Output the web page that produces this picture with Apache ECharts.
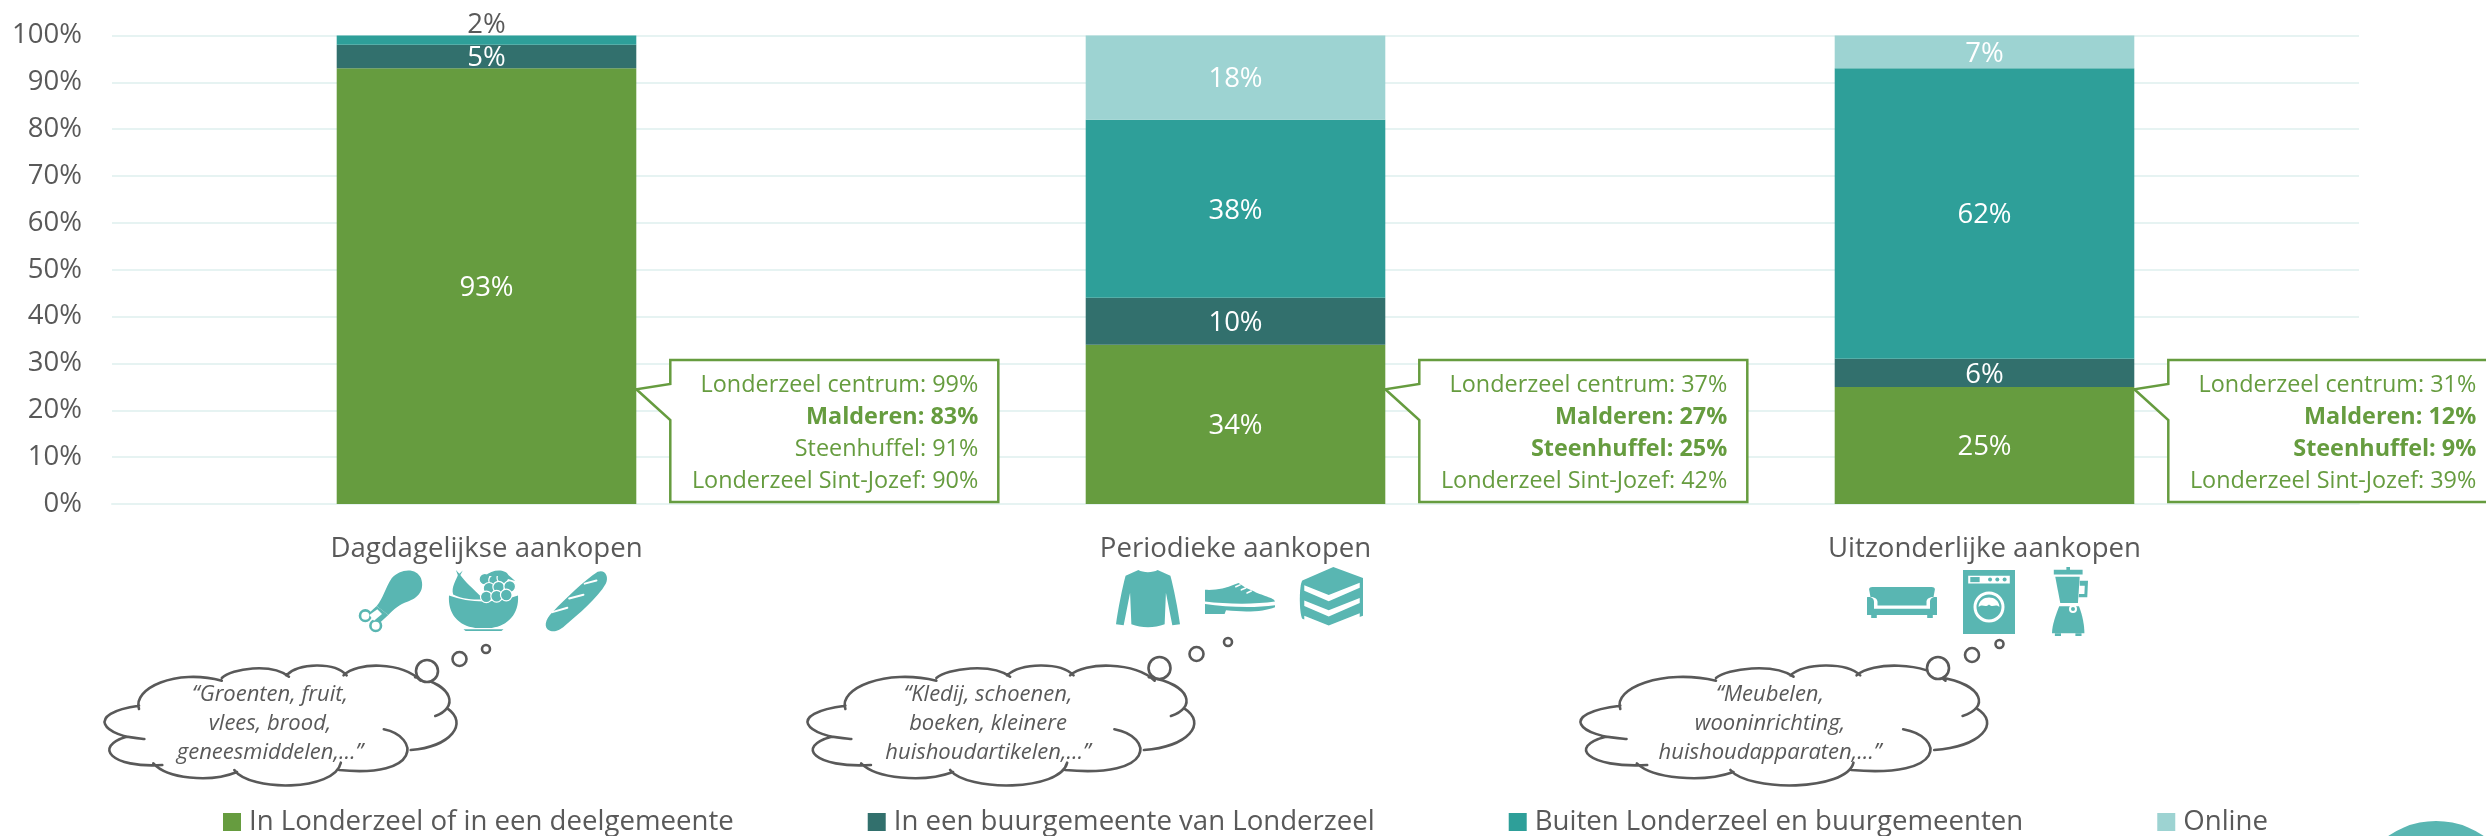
<!DOCTYPE html>
<html><head><meta charset="utf-8">
<style>html,body{margin:0;padding:0;background:#fff;overflow:hidden}#c{width:2486px;height:836px}</style>
<script src="https://cdn.jsdelivr.net/npm/echarts@6/dist/echarts.min.js"></script></head>
<body><div id="c"></div>
<script>
const categories = ['Dagdagelijkse aankopen','Periodieke aankopen','Uitzonderlijke aankopen'];
const local = [93,34,25];
const neighbour = [5,10,6];
const outside = [2,38,62];
const online = [null,18,7];
const seriesNames = ['In Londerzeel of in een deelgemeente','In een buurgemeente van Londerzeel','Buiten Londerzeel en buurgemeenten','Online'];
const yTicks = [0,10,20,30,40,50,60,70,80,90,100];
const calloutPlaces = ['Londerzeel centrum','Malderen','Steenhuffel','Londerzeel Sint-Jozef'];
const calloutValues = [[99,83,91,90],[37,27,25,42],[31,12,9,39]];
const calloutBold = [[0,1,0,0],[0,1,1,0],[0,1,1,0]];
const quotes = [
  ['“Groenten, fruit,','vlees, brood,','geneesmiddelen,…”'],
  ['“Kledij, schoenen,','boeken, kleinere','huishoudartikelen,…”'],
  ['“Meubelen,','wooninrichting,','huishoudapparaten,…”']
];

const GREEN='#669c3f', DARK='#32706d', TEAL='#2e9f99', LIGHT='#9dd3d2', ICON='#59b6b2', GREY='#595959', GRID='#e6f3f2';
const FONT='"Open Sans", sans-serif';
const chart = echarts.init(document.getElementById('c'),null,{renderer:'canvas'});
const mk=(name,data,color,extra)=>({name,type:'bar',stack:'a',barWidth:'40%',data,
  itemStyle:{color},
  label:{show:true,position:'inside',offset:[0,2],color:'#fff',fontFamily:FONT,fontSize:27.5,
    formatter:p=>p.value==null?'':p.value+'%'},...extra});
chart.setOption({
  animation:false,
  grid:{left:112,right:127,top:35.5,bottom:332,containLabel:false},
  legend:{left:218,top:803,itemWidth:18,itemHeight:18,itemGap:134,icon:'rect',
    textStyle:{fontFamily:FONT,fontSize:27.6,color:GREY,padding:[0,0,0,3]},
    data:seriesNames},
  xAxis:{type:'category',data:categories,axisTick:{show:false},
    axisLine:{lineStyle:{color:GRID,width:2}},
    axisLabel:{margin:31,fontFamily:FONT,fontSize:27.6,color:GREY}},
  yAxis:{type:'value',min:0,max:100,interval:10,
    axisLine:{show:false},axisTick:{show:false},
    axisLabel:{margin:30,padding:[4,0,0,0],fontFamily:FONT,fontSize:27.5,color:GREY,formatter:v=>yTicks.includes(v)?v+'%':''},
    splitLine:{lineStyle:{color:GRID,width:2}}},
  series:[
    mk(seriesNames[0],local,GREEN),
    mk(seriesNames[1],neighbour,DARK),
    mk(seriesNames[2],outside.map((v,i)=>v<3?{value:v,label:{position:'top',distance:-4,offset:[0,0],color:GREY}}:v),TEAL),
    mk(seriesNames[3],online,LIGHT)
  ]
});

// ---------- annotations ----------
const g=[];
let shapeId=0;
const pathEl=(d,style,z)=>{const n='p'+(shapeId++);
  echarts.graphic.registerShape(n,echarts.graphic.extendPath(d,{}));
  g.push({type:n,z:z||20,style});};
const mapPath=(d,fx,fy)=>{let i=0;return d.replace(/-?\d+(\.\d+)?/g,m=>{const v=+m;const r=(i%2==0)?fx(v):fy(v);i++;return r.toFixed(2);});};
const box=(d,b)=>mapPath(d,v=>b[0]+v/100*b[2],v=>b[1]+v/100*b[3]);
const fillP=(d,color)=>pathEl(d,{fill:color||ICON});
const lineP=(d,color,w)=>pathEl(d,{fill:'none',stroke:color,lineWidth:w,lineCap:'round'});
const circ=(cx,cy,r,fill,stroke,w,z)=>g.push({type:'circle',z:z||20,shape:{cx,cy,r},style:{fill:fill||'none',stroke:stroke||'none',lineWidth:w||0}});

// callouts anchored on the bars
const barHalf=chart.convertToPixel({xAxisIndex:0},0);
const bw=(chart.convertToPixel({xAxisIndex:0},1)-barHalf)*0.4;
const tipY=chart.convertToPixel({yAxisIndex:0},24.5);
const boxW=328, boxTop=360, boxBottom=502, j1=384, j2=420;
categories.forEach((c,i)=>{
  const cx=chart.convertToPixel({xAxisIndex:0},i);
  const tip=cx+bw/2, L=tip+34, R=L+boxW;
  g.push({type:'polygon',z:15,shape:{points:[[L,boxTop],[R,boxTop],[R,boxBottom],[L,boxBottom],[L,j2],[tip,tipY],[L,j1]]},
    style:{fill:'#fff',stroke:GREEN,lineWidth:2.5}});
  calloutPlaces.forEach((p,k)=>{
    g.push({type:'text',z:16,x:R-20,y:385.5+k*32,style:{text:p+': '+calloutValues[i][k]+'%',
      fill:GREEN,fontFamily:FONT,fontSize:23.4,fontWeight:calloutBold[i][k]?'bold':'normal',align:'right',verticalAlign:'middle'}});
  });
});

// thought clouds
const lobes='M133,567 C118,505 215,445 318,482 M318,474 C340,445 430,428 468,470 M462,466 C490,428 570,425 597,466 M590,466 C620,425 720,425 762,482 M750,472 C840,495 845,565 795,588 M822,565 C870,610 830,680 740,690 M680,628 C760,650 765,775 580,750 M584,728 C570,815 380,815 346,750 M352,756 C290,790 195,775 165,730 M185,735 C70,745 30,680 105,650 L143,657 M145,657 C50,650 10,580 133,557';
const clouds=[[105,459,270],[808,1197,988],[1581,1990,1770]];
const bubbles=[[[427,671],[459.5,659],[486,649]],[[1159.5,668],[1196.5,654],[1228,642]],[[1938,668],[1972,655],[1999.5,644]]];
clouds.forEach((cl,i)=>{
  lineP(mapPath(lobes,v=>cl[0]+(v-57)/791*(cl[1]-cl[0]),v=>v/3+520),GREY,2.6);
  bubbles[i].forEach((b,k)=>circ(b[0],b[1],[11,7,4][k],'#fff',GREY,2.6,21));
  quotes[i].forEach((q,k)=>g.push({type:'text',z:22,x:cl[2],y:695+k*28.7,style:{text:q,fill:GREY,
    fontFamily:FONT,fontStyle:'italic',fontSize:22,align:'center',verticalAlign:'middle'}}));
});

// icons
// chicken leg
const Z6=[320,570,33.333,33.333];
fillP(box('M215,25 C240,-5 290,-8 303,25 C315,60 295,85 262,95 C240,102 220,118 205,135 L170,108 C190,85 195,55 215,25 Z',Z6));
fillP(box('M170,108 L205,135 L178,160 L148,128 Z',Z6));
circ(365.3,615.7,5.3,'#fff',ICON,2.6);circ(375.7,625.7,5.3,'#fff',ICON,2.6);
fillP(box('M148,135 L172,118 L186,132 L162,152 Z',Z6),'#fff');
// fruit bowl
const B=[449,570,69,61];
fillP(box('M0,42 C30,55 70,55 100,42 C102,72 85,92 62,95 L38,95 C14,92 -2,72 0,42 Z',B));
fillP(box('M21,97 L79,97 L76,100 L24,100 Z',B));
fillP(box('M14,5 C25,22 33,28 50,48 C35,50 15,46 6,40 C3,28 10,18 14,5 Z',B));
fillP(box('M10,0 L15,6 L20,1 L16,9 L13,9 Z',B));
[[52,15],[66,17],[78,13],[58,30],[72,28],[88,27],[54,44],[69,43],[83,41]].forEach(p=>{
  circ(B[0]+p[0]/100*B[2],B[1]+p[1]/100*B[3],5.8,ICON,'#fff',1.2);
});
fillP(box('M52,10 C62,-2 82,-2 86,8 L96,18 L70,10 Z',B));
// baguette
const BG=[545,570,62,62];
fillP(box('M8,98 C-3,93 0,80 12,68 C35,45 62,18 85,3 C96,-2 104,10 98,22 C85,45 55,70 32,90 C22,99 15,100 8,98 Z',BG));
[[12,68,36,61],[39,46,62,40],[64,22,83,17]].forEach(s=>lineP(box(`M${s[0]},${s[1]} L${s[2]},${s[3]}`,BG),'#fff',2));
// sweater
fillP(box('M35,0 C42,5 58,5 65,0 L85,10 C90,30 97,70 100,95 L88,97 L78,40 L76,95 C60,102 40,102 24,95 L22,40 L12,97 L0,95 C3,70 10,30 15,10 Z',[1116,570,64,57]));
// shoe
const S=[1205,583,70,31];
fillP(box('M0,22 C15,24 30,18 42,5 L48,0 L58,15 L68,25 C80,40 100,48 100,60 C70,70 30,68 0,60 Z',S));
fillP(box('M0,68 C30,78 70,82 100,72 L100,78 C85,92 60,95 30,88 L28,100 L0,100 Z',S));
[[44,12,50,6],[52,22,58,16],[60,32,66,26]].forEach(s=>lineP(box(`M${s[0]},${s[1]} L${s[2]},${s[3]}`,S),'#fff',1.6));
// books
const BK=[1299,567,66,61];
fillP(box('M52,0 L97,18 L97,80 L45,100 L5,85 C0,75 0,30 5,22 Z',BK));
[0,25,50].forEach(y=>fillP(box(`M8,${30+y} L45,${46+y} L92,${26+y} L92,${34+y} L45,${56+y} L8,${39+y} Z`,BK),'#fff'));
// sofa
const SF=[1867,587,70,31];
fillP(box('M8,0 L92,0 C96,0 97,4 97,8 L95,32 C88,32 85,40 85,48 L85,60 L15,60 L15,48 C15,40 12,32 5,32 L3,8 C3,4 4,0 8,0 Z',SF));
fillP(box('M0,33 C6,31 10,38 10,48 L10,70 L90,70 L90,48 C90,38 94,31 100,33 L100,90 L0,90 Z',SF));
fillP(box('M6,90 L14,90 L14,100 L6,100 Z M86,90 L94,90 L94,100 L86,100 Z',SF));
// washing machine
const W=[1963,570,52,64];
fillP(box('M0,0 L100,0 L100,100 L0,100 Z',W));
fillP(box('M10,9 L90,9 L90,21 L10,21 Z',W),'#fff');
fillP(box('M14,11 L32,11 L32,19 L14,19 Z',W));
[52,66,80].forEach(x=>circ(W[0]+x/100*W[2],W[1]+15/100*W[3],2,ICON,null,0));
circ(1989,607,14,ICON,'#fff',3);
fillP(box('M30,58 C30,38 70,38 70,58 C62,52 58,60 50,54 C42,60 38,52 30,58 Z',W),'#fff');
// blender
const BL=[2052,567,36,69];
fillP(box('M5,4 L40,4 L40,0 L50,0 L50,4 L85,4 L85,11 L5,11 Z',BL));
fillP(box('M9,14 L77,14 L72,52 L23,52 Z',BL));
fillP(box('M77,20 L100,20 L98,44 L74,44 L75,39 L90,39 L91,27 L77,27 Z',BL));
fillP(box('M20,57 L75,57 C85,70 90,85 90,96 L0,96 C0,85 10,70 20,57 Z',BL));
fillP(box('M8,96 L25,96 L25,100 L8,100 Z M65,96 L82,96 L82,100 L65,100 Z',BL));
circ(2073,609,3,ICON,'#fff',2);

// page badge in the corner
circ(2436,905,84,ICON,null,0,25);

chart.setOption({graphic:{elements:g}});
</script></body></html>
